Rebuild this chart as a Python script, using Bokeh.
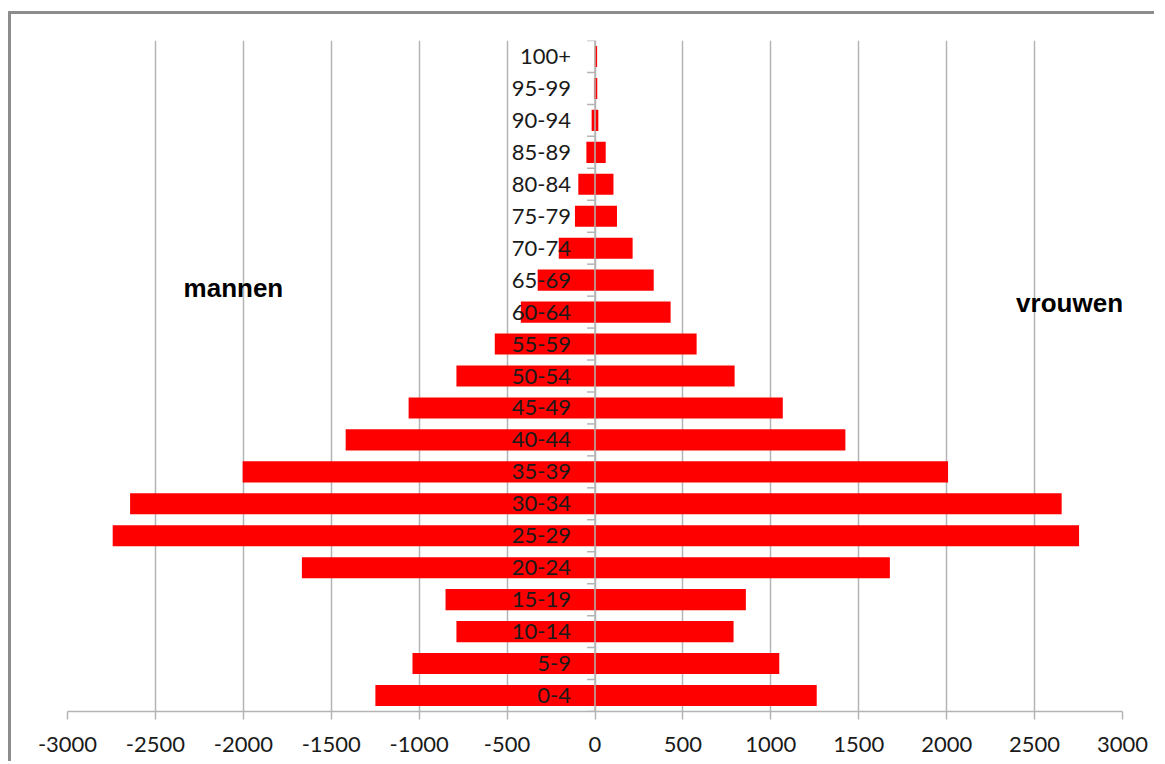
from bokeh.plotting import figure
from bokeh.models import ColumnDataSource, Span, Label, FixedTicker, Range1d, PrintfTickFormatter
from bokeh.core.properties import value
from bokeh.embed import file_html
from bokeh.resources import INLINE

# ---- data ----
age_groups = ["0-4", "5-9", "10-14", "15-19", "20-24", "25-29", "30-34", "35-39",
              "40-44", "45-49", "50-54", "55-59", "60-64", "65-69", "70-74",
              "75-79", "80-84", "85-89", "90-94", "95-99", "100+"]
mannen = [1249, 1038, 788, 850, 1667, 2743, 2644, 2004, 1418, 1060, 788, 570,
          422, 326, 206, 114, 95, 49, 19, 6, 2]
vrouwen = [1261, 1048, 788, 858, 1677, 2753, 2654, 2008, 1424, 1068, 794, 578,
           430, 334, 214, 125, 105, 61, 19, 13, 12]
x_ticks = [-3000, -2500, -2000, -1500, -1000, -500, 0, 500, 1000, 1500, 2000, 2500, 3000]

n = len(age_groups)
idx = list(range(n))

GRID = "#b4b4b4"
FONT = "Lato"

p = figure(width=1146, height=750, output_backend="svg", toolbar_location=None,
           x_range=Range1d(-3000, 3000), y_range=Range1d(-0.5, n - 0.5),
           min_border_left=56, min_border_right=35, min_border_top=26,
           min_border_bottom=53)
p.styles = {"border-left": "3px solid #8c8c8c", "border-top": "3px solid #8c8c8c",
            "margin-top": "11px", "margin-left": "8px"}
p.outline_line_color = None
p.background_fill_color = "white"
p.border_fill_color = "white"

# grid
p.xgrid.ticker = FixedTicker(ticks=x_ticks)
p.xgrid.grid_line_color = GRID
p.xgrid.grid_line_width = 1.5
p.ygrid.grid_line_color = None

# axes
p.yaxis.visible = False
xa = p.xaxis[0]
xa.ticker = FixedTicker(ticks=x_ticks)
xa.formatter = PrintfTickFormatter(format="%d")
xa.axis_line_color = GRID
xa.axis_line_width = 1.5
xa.major_tick_line_color = GRID
xa.major_tick_line_width = 1.5
xa.major_tick_out = 8
xa.major_tick_in = 0
xa.minor_tick_line_color = None
xa.major_label_text_font = FONT
xa.major_label_text_font_size = "22px"
xa.major_label_text_color = "#1a1a1a"
xa.major_label_standoff = 17

src = ColumnDataSource(dict(y=idx, men=[-m for m in mannen], women=vrouwen,
                            label=age_groups, zero=[0] * n))

p.hbar(y="y", left="men", right="zero", height=0.66, source=src,
       fill_color="#ff0000", line_color=None)
p.hbar(y="y", left="zero", right="women", height=0.66, source=src,
       fill_color="#ff0000", line_color=None)

# vertical axis line at zero
p.add_layout(Span(location=0, dimension="height", line_color=GRID, line_width=1.5))

# category tick marks on the zero axis (boundaries between groups)
bounds = [i - 0.5 for i in range(n + 1)]
p.segment(x0=[-45] * len(bounds), x1=[0] * len(bounds), y0=bounds, y1=bounds,
          line_color=GRID, line_width=1.5)

# category labels
p.text(x="zero", y="y", text="label", source=src, text_align="right",
       text_baseline="middle", x_offset=-24, text_font=value(FONT),
       text_font_size="22px", text_color="#1a1a1a")

p.add_layout(Label(x=-2340, y=12.74, text="mannen", text_font="Liberation Sans",
                   text_font_style="bold", text_font_size="26px",
                   text_baseline="middle", text_color="black"))
p.add_layout(Label(x=2395, y=12.27, text="vrouwen", text_font="Liberation Sans",
                   text_font_style="bold", text_font_size="26px",
                   text_baseline="middle", text_color="black"))

open("out.html", "w").write(file_html(p, INLINE))
